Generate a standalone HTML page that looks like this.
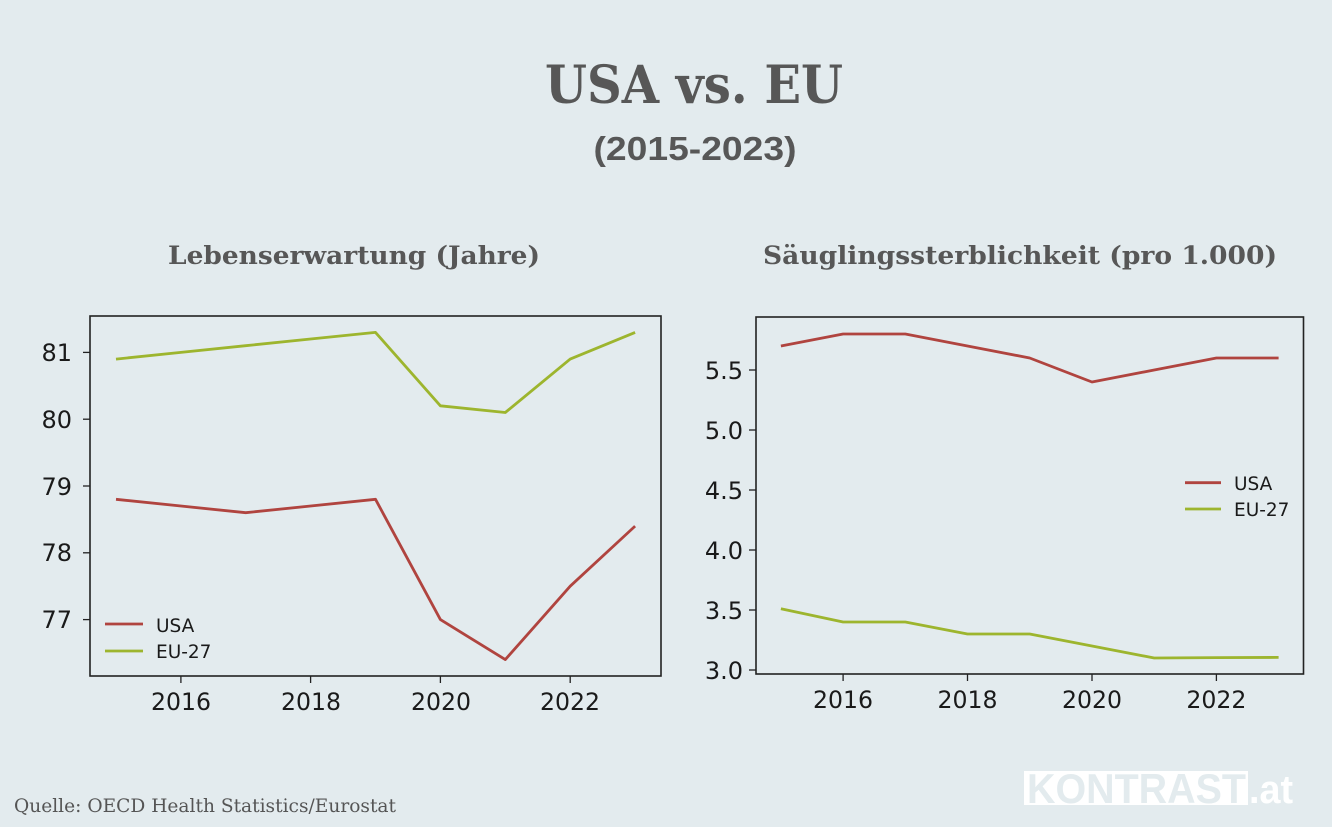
<!DOCTYPE html>
<html>
<head>
<meta charset="utf-8">
<style>
  html, body { margin:0; padding:0; background:#e3ebee; }
  svg { display:block; }
</style>
</head>
<body>
<svg width="1332" height="827" viewBox="0 0 1332 827" xmlns="http://www.w3.org/2000/svg">
  <rect x="0" y="0" width="1332" height="827" fill="#e3ebee"/>

  <!-- Titles -->
  <text x="694" y="103" text-anchor="middle" font-family="DejaVu Serif, Liberation Serif, serif" font-weight="bold" font-size="52" fill="#575757" textLength="298" lengthAdjust="spacingAndGlyphs">USA vs. EU</text>
  <text x="695" y="160" text-anchor="middle" font-family="Liberation Sans, sans-serif" font-weight="bold" font-size="33" fill="#575757" textLength="203" lengthAdjust="spacingAndGlyphs">(2015-2023)</text>

  <text x="354" y="264" text-anchor="middle" font-family="DejaVu Serif, Liberation Serif, serif" font-weight="bold" font-size="25" fill="#575757" textLength="372" lengthAdjust="spacingAndGlyphs">Lebenserwartung (Jahre)</text>
  <text x="1020" y="264" text-anchor="middle" font-family="DejaVu Serif, Liberation Serif, serif" font-weight="bold" font-size="25" fill="#575757" textLength="514" lengthAdjust="spacingAndGlyphs">Säuglingssterblichkeit (pro 1.000)</text>

  <!-- LEFT CHART -->
  <g font-family="DejaVu Sans, sans-serif" fill="#1a1a1a">
    <g stroke="#222" stroke-width="1.3">
      <line x1="83" y1="352.4" x2="90" y2="352.4"/>
      <line x1="83" y1="419.2" x2="90" y2="419.2"/>
      <line x1="83" y1="486.0" x2="90" y2="486.0"/>
      <line x1="83" y1="552.8" x2="90" y2="552.8"/>
      <line x1="83" y1="619.6" x2="90" y2="619.6"/>
      <line x1="180.9" y1="676" x2="180.9" y2="683"/>
      <line x1="310.6" y1="676" x2="310.6" y2="683"/>
      <line x1="440.4" y1="676" x2="440.4" y2="683"/>
      <line x1="570.2" y1="676" x2="570.2" y2="683"/>
    </g>
    <g font-size="24" text-anchor="end">
      <text x="72" y="361">81</text>
      <text x="72" y="428">80</text>
      <text x="72" y="495">79</text>
      <text x="72" y="561">78</text>
      <text x="72" y="628">77</text>
    </g>
    <g font-size="24" text-anchor="middle">
      <text x="181" y="710" textLength="60" lengthAdjust="spacingAndGlyphs">2016</text>
      <text x="311" y="710" textLength="60" lengthAdjust="spacingAndGlyphs">2018</text>
      <text x="441" y="710" textLength="60" lengthAdjust="spacingAndGlyphs">2020</text>
      <text x="570" y="710" textLength="60" lengthAdjust="spacingAndGlyphs">2022</text>
    </g>
    <polyline fill="none" stroke="#9db52e" stroke-width="2.8" stroke-linejoin="round"
      points="116,359.1 180.9,352.4 245.7,345.7 310.6,339.0 375.5,332.4 440.4,405.8 505.3,412.5 570.2,359.1 635.1,332.4"/>
    <polyline fill="none" stroke="#b0443f" stroke-width="2.8" stroke-linejoin="round"
      points="116,499.3 180.9,506.0 245.7,512.7 310.6,506.0 375.5,499.3 440.4,619.6 505.3,659.6 570.2,586.2 635.1,526.1"/>
    <line x1="105" y1="624" x2="143" y2="624" stroke="#b0443f" stroke-width="2.8"/>
    <line x1="105" y1="651" x2="143" y2="651" stroke="#9db52e" stroke-width="2.8"/>
    <text x="156" y="632" font-size="18.5">USA</text>
    <text x="156" y="658" font-size="18.5">EU-27</text>
    <rect x="90" y="316" width="571" height="360" fill="none" stroke="#222" stroke-width="1.6"/>
  </g>

  <!-- RIGHT CHART -->
  <g font-family="DejaVu Sans, sans-serif" fill="#1a1a1a">
    <g stroke="#222" stroke-width="1.3">
      <line x1="749" y1="670" x2="756" y2="670"/>
      <line x1="749" y1="610" x2="756" y2="610"/>
      <line x1="749" y1="550" x2="756" y2="550"/>
      <line x1="749" y1="490" x2="756" y2="490"/>
      <line x1="749" y1="430" x2="756" y2="430"/>
      <line x1="749" y1="370" x2="756" y2="370"/>
      <line x1="843.1" y1="674" x2="843.1" y2="681"/>
      <line x1="967.5" y1="674" x2="967.5" y2="681"/>
      <line x1="1092" y1="674" x2="1092" y2="681"/>
      <line x1="1216.4" y1="674" x2="1216.4" y2="681"/>
    </g>
    <g font-size="24" text-anchor="end">
      <text x="743" y="679">3.0</text>
      <text x="743" y="619">3.5</text>
      <text x="743" y="559">4.0</text>
      <text x="743" y="499">4.5</text>
      <text x="743" y="439">5.0</text>
      <text x="743" y="379">5.5</text>
    </g>
    <g font-size="24" text-anchor="middle">
      <text x="843" y="708" textLength="60" lengthAdjust="spacingAndGlyphs">2016</text>
      <text x="967.5" y="708" textLength="60" lengthAdjust="spacingAndGlyphs">2018</text>
      <text x="1092" y="708" textLength="60" lengthAdjust="spacingAndGlyphs">2020</text>
      <text x="1216.4" y="708" textLength="60" lengthAdjust="spacingAndGlyphs">2022</text>
    </g>
    <polyline fill="none" stroke="#b0443f" stroke-width="2.8" stroke-linejoin="round"
      points="780.9,346 843.1,334 905.3,334 967.5,346 1029.7,358 1092,382 1154.2,370 1216.4,358 1278.6,358"/>
    <polyline fill="none" stroke="#9db52e" stroke-width="2.8" stroke-linejoin="round"
      points="780.9,608.8 843.1,622 905.3,622 967.5,634 1029.7,634 1092,646 1154.2,658 1216.4,657.6 1278.6,657.4"/>
    <line x1="1185" y1="482.7" x2="1221" y2="482.7" stroke="#b0443f" stroke-width="2.8"/>
    <line x1="1185" y1="509" x2="1221" y2="509" stroke="#9db52e" stroke-width="2.8"/>
    <text x="1234" y="490" font-size="18.5">USA</text>
    <text x="1234" y="516" font-size="18.5">EU-27</text>
    <rect x="756" y="317" width="547.5" height="357" fill="none" stroke="#222" stroke-width="1.6"/>
  </g>

  <!-- Source -->
  <text x="14" y="812" font-family="DejaVu Serif, Liberation Serif, serif" font-size="19" fill="#555555" textLength="382" lengthAdjust="spacingAndGlyphs">Quelle: OECD Health Statistics/Eurostat</text>

  <!-- Logo -->
  <rect x="1024" y="771" width="224" height="34" fill="#ffffff"/>
  <text x="1027" y="803" font-family="Liberation Sans, sans-serif" font-weight="bold" font-size="42" fill="#e3ebee" textLength="219" lengthAdjust="spacingAndGlyphs">KONTRAST</text>
  <text x="1249" y="803" font-family="Liberation Sans, sans-serif" font-weight="bold" font-size="40" fill="#ffffff" textLength="44" lengthAdjust="spacingAndGlyphs">.at</text>
</svg>
</body>
</html>
